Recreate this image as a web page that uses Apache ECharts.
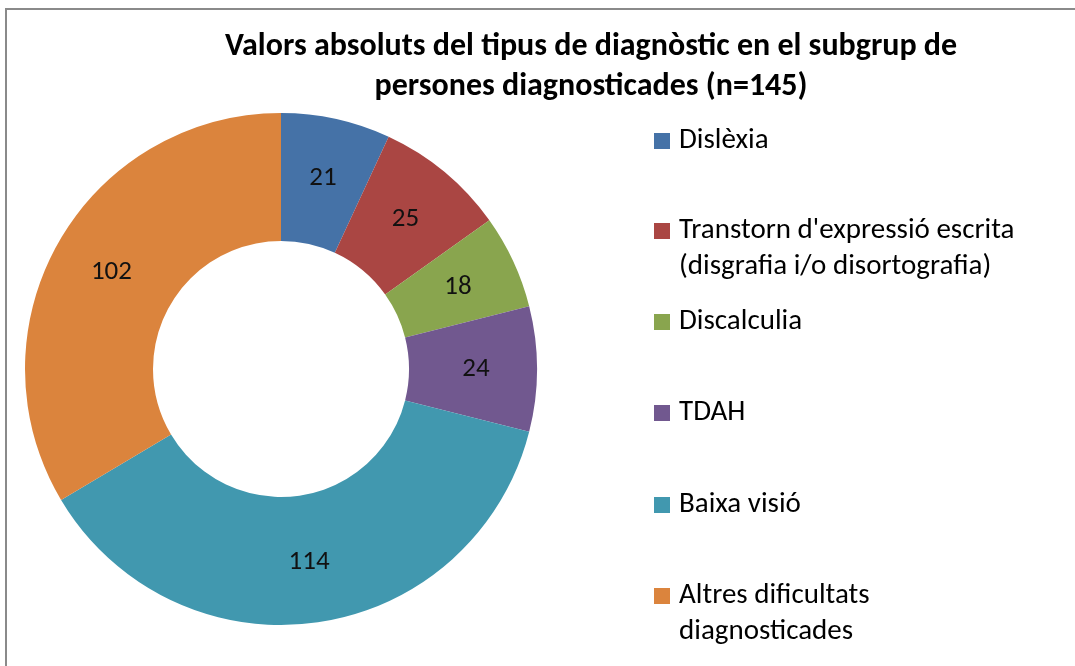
<!DOCTYPE html>
<html>
<head>
<meta charset="utf-8">
<script src="https://cdn.jsdelivr.net/npm/echarts@6/dist/echarts.min.js"></script>
<style>
html,body{margin:0;padding:0;background:#fff;}
#chart{width:1075px;height:666px;}
</style>
</head>
<body>
<div id="chart"></div>
<script>
const titleLines = ['Valors absoluts del tipus de diagnòstic en el subgrup de', 'persones diagnosticades (n=145)'];
const categories = ['Dislèxia', "Transtorn d'expressió escrita\n(disgrafia i/o disortografia)", 'Discalculia', 'TDAH', 'Baixa visió', 'Altres dificultats\ndiagnosticades'];
const values = [21, 25, 18, 24, 114, 102];
const colors = ['#4572A7', '#AA4643', '#89A54E', '#71588F', '#4198AF', '#DB843D'];

const FONT = 'Carlito, Lato, sans-serif';
const legendCenters = [141, 231, 322, 413, 505, 596];
const LH = 36;

const chart = echarts.init(document.getElementById('chart'), null, {renderer: 'canvas'});

const legends = categories.map((name, i) => {
  const lines = name.split('\n').length;
  const top = lines === 1 ? legendCenters[i] - LH / 2 : legendCenters[i] - LH * 1.5;
  return {
    data: [name],
    orient: 'vertical',
    left: 654,
    top: top,
    padding: 0,
    itemWidth: 16,
    itemHeight: 16,
    icon: 'rect',
    selectedMode: false,
    formatter: lines === 1 ? '{name}' : '\n{name}',
    textStyle: {
      fontFamily: FONT,
      fontSize: 29,
      color: '#000',
      lineHeight: LH,
      padding: [0, 0, 0, 4]
    }
  };
});

const option = {
  backgroundColor: '#fff',
  animation: false,
  color: colors,
  title: {
    text: titleLines.join('\n'),
    left: 586,
    top: 22,
    padding: 5,
    textAlign: 'center',
    textStyle: {
      fontFamily: FONT,
      fontWeight: 'bold',
      fontSize: 32,
      lineHeight: 40,
      color: '#000'
    }
  },
  legend: legends,
  graphic: [{
    type: 'rect',
    shape: {x: 6, y: 9, width: 1200, height: 800},
    style: {fill: 'none', stroke: '#8a8a8a', lineWidth: 2},
    silent: true,
    z: 100
  }],
  series: [{
    type: 'pie',
    center: [281, 369],
    radius: [128, 256],
    startAngle: 90,
    clockwise: true,
    avoidLabelOverlap: false,
    itemStyle: {borderWidth: 0},
    label: {
      show: true,
      position: 'inside',
      formatter: '{c}',
      fontFamily: FONT,
      fontSize: 27,
      color: '#111',
      padding: [6, 0, 0, 0]
    },
    labelLine: {show: false},
    emphasis: {disabled: true},
    data: categories.map((n, i) => ({name: n, value: values[i]}))
  }]
};
chart.setOption(option);
</script>
</body>
</html>
